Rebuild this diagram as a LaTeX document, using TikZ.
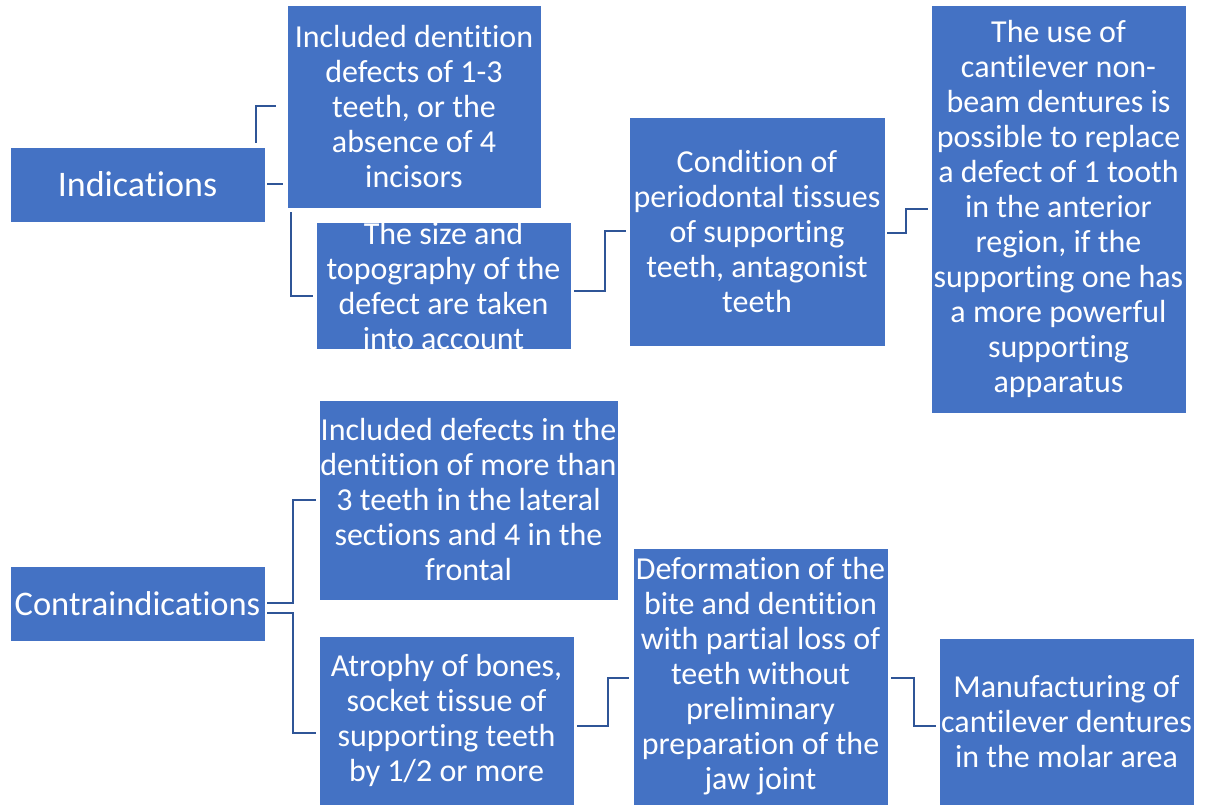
\documentclass[tikz,border=0pt]{standalone}
\usepackage{fontspec}
\setmainfont[Ligatures=NoCommon]{Carlito}
\usetikzlibrary{calc}
\definecolor{boxblue}{HTML}{4472C4}
\definecolor{linkblue}{HTML}{2F5597}
\tikzset{
  box/.style={rectangle, fill=boxblue, draw=white, line width=0.6pt, text=white,
    inner sep=0pt, align=center, font=\fontsize{32}{35}\selectfont},
  headbox/.style={box, font=\fontsize{36}{40}\selectfont},
  link/.style={draw=linkblue, line width=2pt}
}
\begin{document}
\begin{tikzpicture}[x=1pt,y=-1pt]
\useasboundingbox (0,0) rectangle (1205,805);
\node[headbox, minimum width=255pt, minimum height=75pt] (ind) at (137.5,184.5) {Indications};
\node[box, minimum width=254pt, minimum height=203pt] (a) at (414,106.5)
  {Included dentition\\defects of 1-3\\teeth, or the\\absence of 4\\incisors};
\node[box, minimum width=255pt, minimum height=120pt] (b) at (443.5,286)
  {The size and\\topography of the\\defect are taken\\into account};
\node[box, minimum width=256pt, minimum height=229pt] (c) at (757,231.5)
  {Condition of\\periodontal tissues\\of supporting\\teeth, antagonist\\teeth};
\node[box, minimum width=255pt, minimum height=408pt] (d) at (1058.5,209)
  {The use of\\cantilever non-\\beam dentures is\\possible to replace\\a defect of 1 tooth\\in the anterior\\region, if the\\supporting one has\\a more powerful\\supporting\\apparatus};
\node[headbox, minimum width=255pt, minimum height=75pt, font=\fontsize{34.5}{40}\selectfont] (con) at (137.5,603.5) {Contraindications};
\node[box, minimum width=299pt, minimum height=200pt] (e) at (468.5,500)
  {Included defects in the\\dentition of more than\\3 teeth in the lateral\\sections and 4 in the\\frontal};
\node[box, minimum width=255pt, minimum height=169pt] (f) at (446.5,720.5)
  {Atrophy of bones,\\socket tissue of\\supporting teeth\\by 1/2 or more};
\node[box, minimum width=255pt, minimum height=257pt] (g) at (760.5,676.5)
  {Deformation of the\\bite and dentition\\with partial loss of\\teeth without\\preliminary\\preparation of the\\jaw joint};
\node[box, minimum width=255pt, minimum height=167pt] (h) at (1066.5,721.5)
  {Manufacturing of\\cantilever dentures\\in the molar area};
% connectors
\draw[link] ([shift={(-9,-4)}]ind.north east) |- ([xshift=-11pt]a.west);
\draw[link] ([xshift=2pt]ind.east) -- ($(ind.east -| a.west)+(-4,0)$);
\draw[link] ([shift={(4,4)}]a.south west) |- ([shift={(-3,10)}]b.west);
\draw[link] ([shift={(3,5)}]b.east) -- ++(31,0) |- ([xshift=-3pt]c.west);
\draw[link] ([shift={(2,1.5)}]c.east) -- ++(19,0) |- ([xshift=-3pt]d.west);
\draw[link] ([shift={(2,-0.5)}]con.east) -- ++(26,0) |- ([xshift=-3pt]e.west);
\draw[link] ([shift={(2,9.5)}]con.east) -- ++(26,0) |- ([shift={(-3,12.5)}]f.west);
\draw[link] ([shift={(3,5.5)}]f.east) -- ++(31,0) |- ([shift={(-4,1.5)}]g.west);
\draw[link] ([shift={(3,1.5)}]g.east) -- ++(23,0) |- ([shift={(-3,4.5)}]h.west);
\end{tikzpicture}
\end{document}
